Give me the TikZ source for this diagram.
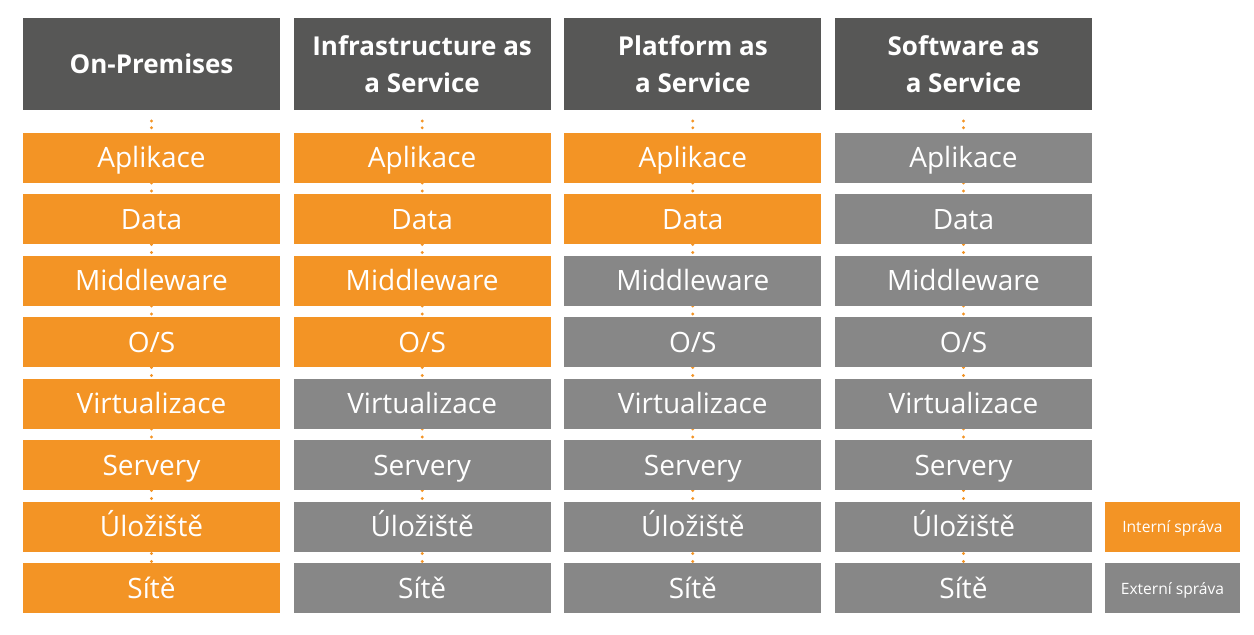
\documentclass[tikz,border=0pt]{standalone}
\usepackage{fontspec}
\setmainfont{Open Sans}
\usetikzlibrary{positioning}
\definecolor{headgray}{HTML}{575756}
\definecolor{ownorange}{HTML}{F39425}
\definecolor{extgray}{HTML}{878787}
\pgfdeclarelayer{background}
\pgfsetlayers{background,main}
\tikzset
{
    header/.style  = {fill=headgray, text=white, align=center, inner sep=0pt, outer sep=0pt, minimum width=128.5pt, minimum height=46pt, font=\bfseries\fontsize{13}{18.5}\selectfont},
    layer/.style   = {text=white, inner sep=0pt, outer sep=0pt, minimum width=128.5pt, minimum height=25pt, text height=10pt, text depth=0pt, font=\fontsize{14}{16}\selectfont},
    intern/.style  = {layer, fill=ownorange},
    extern/.style  = {layer, fill=extgray},
    legend/.style  = {text=white, inner sep=0pt, outer sep=0pt, minimum width=67.5pt, minimum height=25pt, text height=5.6pt, text depth=0pt, font=\fontsize{7.8}{10}\selectfont},
    link/.style    = {draw=ownorange, line width=1.6pt, line cap=round, dash pattern=on 0pt off 4pt, shorten <=0.75pt, shorten >=1pt},
    toplink/.style = {link, shorten <=5.5pt, shorten >=2.5pt, dash pattern=on 0pt off 3.4pt}
}
\begin{document}
\begin{tikzpicture}[node distance=5.75pt]
    \useasboundingbox (0,0) rectangle (627pt,-317.5pt);
    % headers
    \node [header, anchor=north west] (h1) at (11.5pt,-9pt) {On-Premises};
    \node [header, right=6.83pt of h1] (h2) {Infrastructure as\\a Service};
    \node [header, right=6.83pt of h2] (h3) {Platform as\\a Service};
    \node [header, right=6.83pt of h3] (h4) {Software as\\a Service};
    % On-Premises
    \node [intern, below=11.5pt of h1] (app1) {Aplikace};
    \node [intern, below=of app1] (data1) {Data};
    \node [intern, below=of data1] (mw1) {Middleware};
    \node [intern, below=of mw1] (os1) {O/S};
    \node [intern, below=of os1] (virt1) {Virtualizace};
    \node [intern, below=of virt1] (srv1) {Servery};
    \node [intern, below=of srv1] (stor1) {Úložiště};
    \node [intern, below=of stor1] (net1) {Sítě};
    % IaaS
    \node [intern, below=11.5pt of h2] (app2) {Aplikace};
    \node [intern, below=of app2] (data2) {Data};
    \node [intern, below=of data2] (mw2) {Middleware};
    \node [intern, below=of mw2] (os2) {O/S};
    \node [extern, below=of os2] (virt2) {Virtualizace};
    \node [extern, below=of virt2] (srv2) {Servery};
    \node [extern, below=of srv2] (stor2) {Úložiště};
    \node [extern, below=of stor2] (net2) {Sítě};
    % PaaS
    \node [intern, below=11.5pt of h3] (app3) {Aplikace};
    \node [intern, below=of app3] (data3) {Data};
    \node [extern, below=of data3] (mw3) {Middleware};
    \node [extern, below=of mw3] (os3) {O/S};
    \node [extern, below=of os3] (virt3) {Virtualizace};
    \node [extern, below=of virt3] (srv3) {Servery};
    \node [extern, below=of srv3] (stor3) {Úložiště};
    \node [extern, below=of stor3] (net3) {Sítě};
    % SaaS
    \node [extern, below=11.5pt of h4] (app4) {Aplikace};
    \node [extern, below=of app4] (data4) {Data};
    \node [extern, below=of data4] (mw4) {Middleware};
    \node [extern, below=of mw4] (os4) {O/S};
    \node [extern, below=of os4] (virt4) {Virtualizace};
    \node [extern, below=of virt4] (srv4) {Servery};
    \node [extern, below=of srv4] (stor4) {Úložiště};
    \node [extern, below=of stor4] (net4) {Sítě};
    % legend
    \node [legend, fill=ownorange, right=6.5pt of stor4] (own) {Interní správa};
    \node [legend, fill=extgray, right=6.5pt of net4] (ext) {Externí správa};
    % dotted links
    \begin{pgfonlayer}{background}
        \draw [toplink] (h1) -- (app1);
        \draw [toplink] (h2) -- (app2);
        \draw [toplink] (h3) -- (app3);
        \draw [toplink] (h4) -- (app4);
        \draw [link] (app1) -- (data1) (data1) -- (mw1) (mw1) -- (os1) (os1) -- (virt1) (virt1) -- (srv1) (srv1) -- (stor1) (stor1) -- (net1);
        \draw [link] (app2) -- (data2) (data2) -- (mw2) (mw2) -- (os2) (os2) -- (virt2) (virt2) -- (srv2) (srv2) -- (stor2) (stor2) -- (net2);
        \draw [link] (app3) -- (data3) (data3) -- (mw3) (mw3) -- (os3) (os3) -- (virt3) (virt3) -- (srv3) (srv3) -- (stor3) (stor3) -- (net3);
        \draw [link] (app4) -- (data4) (data4) -- (mw4) (mw4) -- (os4) (os4) -- (virt4) (virt4) -- (srv4) (srv4) -- (stor4) (stor4) -- (net4);
    \end{pgfonlayer}
\end{tikzpicture}
\end{document}
